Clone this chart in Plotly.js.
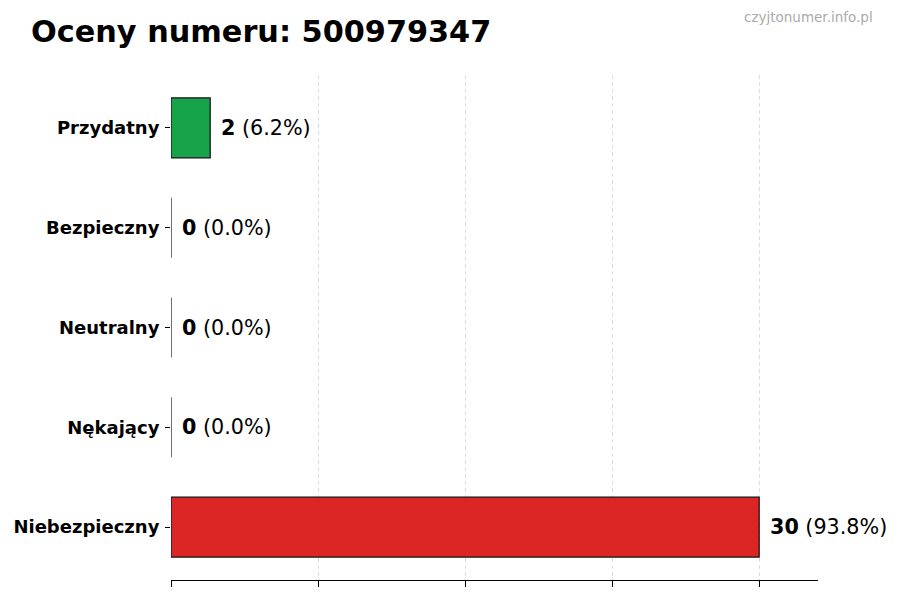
<!DOCTYPE html>
<html>
<head>
<meta charset="utf-8">
<script src="https://cdn.plot.ly/plotly-3.0.1.min.js"></script>
<style>
  html, body { margin: 0; padding: 0; background: #fff; }
  #chart { width: 900px; height: 600px; }
</style>
</head>
<body>
<div id="chart"></div>
<script>
// Rating categories, top to bottom as shown
const categories = ['Przydatny', 'Bezpieczny', 'Neutralny', 'Nękający', 'Niebezpieczny'];
const counts = [2, 0, 0, 0, 30];
const percents = ['6.2%', '0.0%', '0.0%', '0.0%', '93.8%'];
const barColors = ['#16a34a', '#16a34a', '#9ca3af', '#dc2626', '#dc2626'];
const xTicks = [0, 7.5, 15, 22.5, 30];

const FONT = 'DejaVu Sans, sans-serif';

const trace = {
    type: 'bar',
    orientation: 'h',
    y: categories,
    x: counts,
    width: 0.6,
    marker: { color: barColors, line: { color: '#111', width: 1.2 } },
    hoverinfo: 'none'
};

// Value labels right of each bar
const annotations = categories.map((c, i) => ({
    x: counts[i],
    y: c,
    xref: 'x',
    yref: 'y',
    xanchor: 'left',
    yanchor: 'middle',
    xshift: 9,
    showarrow: false,
    text: `<b>${counts[i]}</b> (${percents[i]})`,
    font: { family: FONT, size: 20.7, color: '#000' }
}));

annotations.push({
    xref: 'paper', yref: 'paper',
    x: 1.088, y: 1.115,
    xanchor: 'right', yanchor: 'middle',
    showarrow: false,
    text: 'czyjtonumer.info.pl',
    font: { family: FONT, size: 13.5, color: '#aaaaaa' }
});

const layout = {
    width: 900,
    height: 600,
    margin: { l: 171, r: 82, t: 75, b: 20 },
    paper_bgcolor: '#fff',
    plot_bgcolor: '#fff',
    font: { family: FONT, color: '#000' },
    showlegend: false,
    title: {
        text: '<b>Oceny numeru: 500979347</b>',
        font: { family: FONT, size: 30.3, color: '#000' },
        x: 31 / 900,
        xanchor: 'left',
        y: 1 - 31 / 600,
        yanchor: 'middle'
    },
    xaxis: {
        range: [0, 33],
        tickvals: xTicks,
        showticklabels: false,
        ticks: 'outside',
        ticklen: 6,
        tickcolor: '#000',
        showline: true,
        linecolor: '#000',
        linewidth: 1.2,
        showgrid: true,
        gridcolor: '#dddddd',
        griddash: '4px,3px',
        gridwidth: 1,
        zeroline: false,
        fixedrange: true
    },
    yaxis: {
        type: 'category',
        categoryorder: 'array',
        categoryarray: categories.slice().reverse(),
        range: [-0.53, 4.53],
        ticks: 'outside',
        ticklen: 5,
        tickcolor: '#000',
        showline: false,
        showgrid: false,
        zeroline: false,
        tickfont: { family: FONT, size: 18, color: '#000', weight: 'bold' },
        ticklabelstandoff: 2,
        fixedrange: true
    },
    annotations: annotations
};

Plotly.newPlot('chart', [trace], layout, { displayModeBar: false, staticPlot: true });
</script>
</body>
</html>
